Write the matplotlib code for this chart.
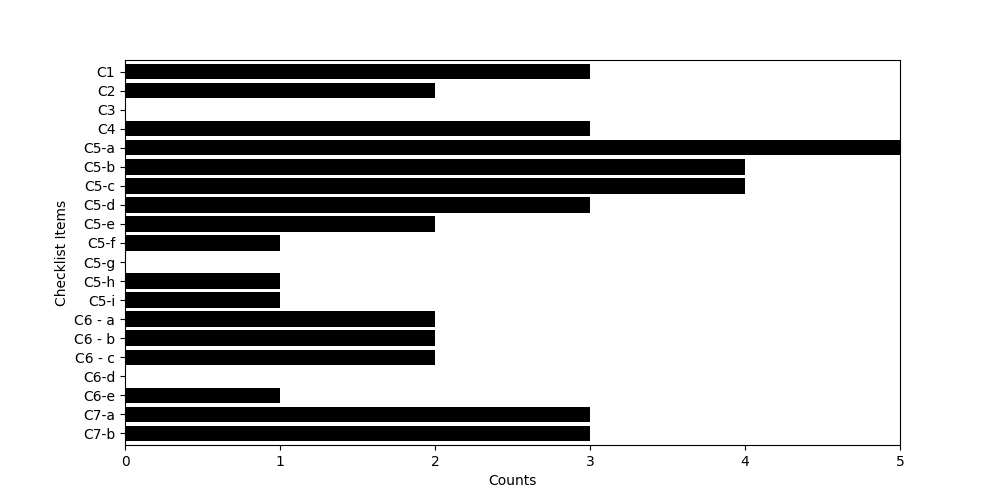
import matplotlib
matplotlib.use("Agg")
import matplotlib.pyplot as plt

items = ["C1", "C2", "C3", "C4", "C5-a", "C5-b", "C5-c", "C5-d", "C5-e", "C5-f",
         "C5-g", "C5-h", "C5-i", "C6 - a", "C6 - b", "C6 - c", "C6-d", "C6-e",
         "C7-a", "C7-b"]
counts = [3, 2, 0, 3, 5, 4, 4, 3, 2, 1, 0, 1, 1, 2, 2, 2, 0, 1, 3, 3]

fig, ax = plt.subplots(figsize=(10, 5), dpi=100)
pos = list(range(len(items)))
ax.barh(pos, counts, height=0.8, color="black")
ax.set_yticks(pos)
ax.set_yticklabels(items)
ax.set_ylim(len(items) - 1 + 0.62, -0.62)
ax.set_xlim(0, 5)
ax.set_xlabel("Counts")
ax.set_ylabel("Checklist Items")
fig.savefig("out.png")
